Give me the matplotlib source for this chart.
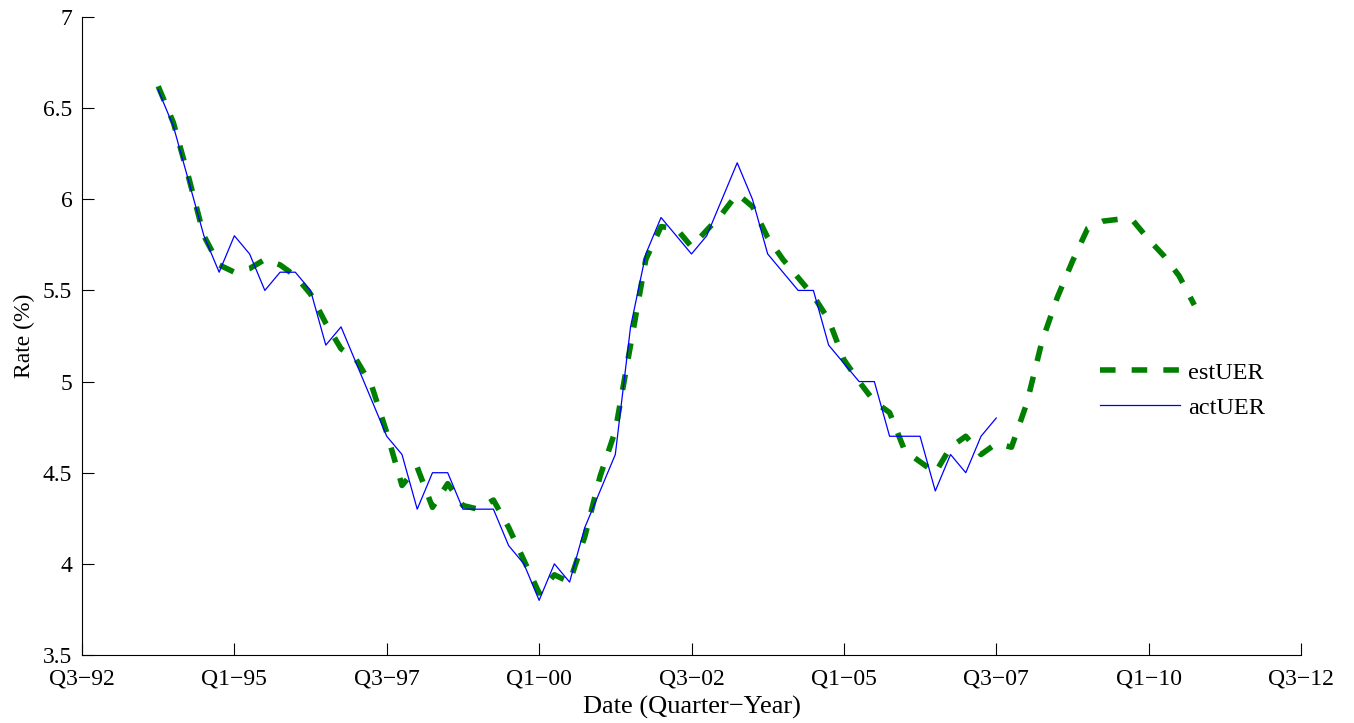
import matplotlib
matplotlib.use('Agg')
import matplotlib.pyplot as plt
import numpy as np

plt.rcParams['font.family'] = ['Liberation Serif', 'DejaVu Serif']

# quarter index 0 = Q3-92
tick_pos = [0, 10, 20, 30, 40, 50, 60, 70, 80]
tick_labels = ['Q3\u221292', 'Q1\u221295', 'Q3\u221297', 'Q1\u221200', 'Q3\u221202',
               'Q1\u221205', 'Q3\u221207', 'Q1\u221210', 'Q3\u221212']

# actual unemployment rate, quarters 5..60
act_start = 5
act_uer = [6.6, 6.4, 6.1, 5.8, 5.6, 5.8, 5.7, 5.5, 5.6, 5.6,
           5.5, 5.2, 5.3, 5.1, 4.9, 4.7, 4.6, 4.3, 4.5, 4.5,
           4.3, 4.3, 4.3, 4.1, 4.0, 3.8, 4.0, 3.9, 4.2, 4.4,
           4.6, 5.3, 5.7, 5.9, 5.8, 5.7, 5.8, 6.0, 6.2, 6.0,
           5.7, 5.6, 5.5, 5.5, 5.2, 5.1, 5.0, 5.0, 4.7, 4.7,
           4.7, 4.4, 4.6, 4.5, 4.7, 4.8]

# estimated unemployment rate, quarters 5..73
est_start = 5
est_uer = [6.62, 6.42, 6.12, 5.80, 5.64, 5.60, 5.62, 5.67, 5.64, 5.58,
           5.48, 5.32, 5.18, 5.12, 4.98, 4.72, 4.43, 4.53, 4.31, 4.44,
           4.32, 4.30, 4.35, 4.20, 4.02, 3.84, 3.94, 3.90, 4.15, 4.48,
           4.73, 5.20, 5.67, 5.85, 5.84, 5.74, 5.83, 5.92, 6.03, 5.96,
           5.79, 5.67, 5.57, 5.47, 5.34, 5.12, 5.00, 4.89, 4.83, 4.62,
           4.56, 4.50, 4.64, 4.70, 4.60, 4.66, 4.64, 4.88, 5.22, 5.46,
           5.66, 5.84, 5.88, 5.89, 5.88, 5.78, 5.69, 5.58, 5.42]

x_act = np.arange(act_start, act_start + len(act_uer))
x_est = np.arange(est_start, est_start + len(est_uer))

fig = plt.figure(figsize=(13.54, 7.23), dpi=100)
ax = fig.add_axes([82 / 1354, 1 - 655 / 723, 1219 / 1354, 638 / 723])

ax.plot(x_est, est_uer, color='#008000', lw=4, linestyle=(0, (2.8, 2.9)),
        dash_capstyle='butt', solid_joinstyle='round', label='estUER')
ax.plot(x_act, act_uer, color='#0000ff', lw=0.9, label='actUER')

ax.set_xlim(0, 80)
ax.set_ylim(3.5, 7)
ax.set_xticks(tick_pos)
ax.set_xticklabels(tick_labels)
ax.set_yticks(np.arange(3.5, 7.01, 0.5))
ax.set_yticklabels(['3.5', '4', '4.5', '5', '5.5', '6', '6.5', '7'])
ax.tick_params(direction='in', length=8.5, width=0.8, labelsize=17)
ax.tick_params(axis='x', pad=10)
ax.tick_params(axis='y', pad=7)

ax.spines['top'].set_visible(False)
ax.spines['right'].set_visible(False)
ax.spines['left'].set_linewidth(0.8)
ax.spines['bottom'].set_linewidth(0.8)

ax.set_xlabel('Date (Quarter\u2212Year)', fontsize=19, labelpad=4)
ax.set_ylabel('Rate (%)', fontsize=17, labelpad=6)

ax.legend(loc='center left', bbox_to_anchor=(0.835, 0.415), frameon=False,
          fontsize=17.5, handlelength=3.3, handletextpad=0.33, labelspacing=0.55,
          borderpad=0, borderaxespad=0)

fig.savefig('out.png', dpi=100)
